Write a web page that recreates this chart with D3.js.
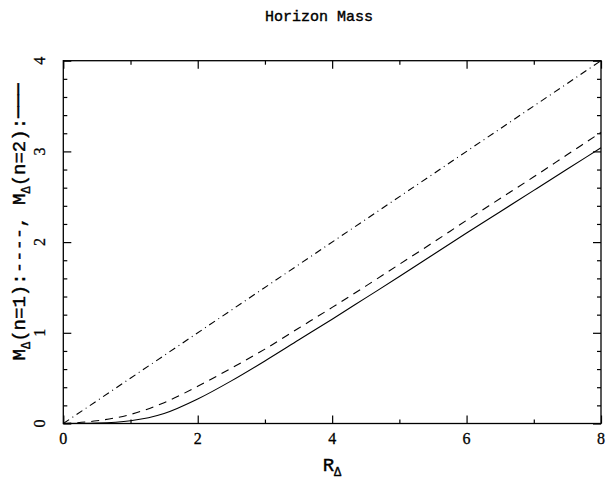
<!DOCTYPE html>
<html>
<head>
<meta charset="utf-8">
<script src="https://cdn.jsdelivr.net/npm/d3@7"></script>
<style>
  html, body { margin: 0; padding: 0; background: #fff; }
  svg { display: block; }
  text { font-family: "Liberation Mono", monospace; fill: #000; }
  .lbl { stroke: #000; stroke-width: 0.4; }
  .num { font-family: "Liberation Serif", serif; }
</style>
</head>
<body>
<svg id="chart" width="607" height="493"></svg>
<script>
// Horizon radius R_Δ and horizon masses for the n=1 and n=2 families
const rValues = [0, 0.5, 1, 1.5, 2, 2.5, 3, 3.5, 4, 4.5, 5, 5.5, 6, 6.5, 7, 7.5, 8];
const massN1  = [0, 0.03, 0.10, 0.23, 0.41, 0.61, 0.82, 1.05, 1.28, 1.515, 1.755, 1.995, 2.24, 2.48, 2.72, 2.965, 3.21];
const massN2  = [0, 0.005, 0.03, 0.11, 0.27, 0.47, 0.69, 0.92, 1.15, 1.385, 1.62, 1.86, 2.10, 2.335, 2.57, 2.805, 3.04];
// Reference line M = R/2
const refR = [0, 8];
const refM = [0, 4];

const xMajor = [0, 2, 4, 6, 8];
const xMinor = [1, 3, 5, 7];
const yMajor = [0, 1, 2, 3, 4];
const yMinor = d3.range(0, 4.0001, 0.2).map(v => +v.toFixed(1)).filter(v => !yMajor.includes(v));

const svg = d3.select("#chart");
const L = 63.3, R = 601, T = 60.7, B = 423.5;

const x = d3.scaleLinear().domain([0, 8]).range([L, R]);
const y = d3.scaleLinear().domain([0, 4]).range([B, T]);

// Frame
svg.append("rect")
  .attr("x", L).attr("y", T).attr("width", R - L).attr("height", B - T)
  .attr("fill", "none").attr("stroke", "#000").attr("stroke-width", 1.3);

// Inward ticks on all four sides
function ticks(axisFn, scale, values, size, transform) {
  const g = svg.append("g").attr("transform", transform)
    .call(axisFn(scale).tickValues(values).tickSize(size).tickFormat(""));
  g.select(".domain").remove();
  g.selectAll(".tick line").attr("stroke", "#000").attr("stroke-width", 1.2);
}
ticks(d3.axisBottom, x, xMajor, -8, `translate(0,${B})`);
ticks(d3.axisBottom, x, xMinor, -4, `translate(0,${B})`);
ticks(d3.axisTop, x, xMajor, -8, `translate(0,${T})`);
ticks(d3.axisTop, x, xMinor, -4, `translate(0,${T})`);
ticks(d3.axisLeft, y, yMajor, -8, `translate(${L},0)`);
ticks(d3.axisLeft, y, yMinor, -4, `translate(${L},0)`);
ticks(d3.axisRight, y, yMajor, -8, `translate(${R},0)`);
ticks(d3.axisRight, y, yMinor, -4, `translate(${R},0)`);

// Tick labels
svg.append("g").selectAll("text").data(xMajor).join("text")
  .attr("class", "num lbl")
  .attr("x", d => x(d)).attr("y", 444)
  .attr("text-anchor", "middle").attr("font-size", 16)
  .style("stroke-width", 0.3)
  .text(d => d);
svg.append("g").selectAll("text").data(yMajor).join("text")
  .attr("class", "num lbl")
  .attr("transform", d => `translate(45,${y(d)}) rotate(-90)`)
  .attr("text-anchor", "middle").attr("font-size", 16)
  .style("stroke-width", 0.3)
  .text(d => d);

// Curves
const line = d3.line().x(d => x(d[0])).y(d => y(d[1])).curve(d3.curveMonotoneX);
function curve(rs, ms, dash) {
  svg.append("path")
    .datum(rs.map((r, i) => [r, ms[i]]))
    .attr("d", line)
    .attr("fill", "none").attr("stroke", "#000").attr("stroke-width", 1.1)
    .attr("stroke-dasharray", dash);
}
curve(refR, refM, "7,4,1,4");
curve(rValues, massN1, "8,6");
curve(rValues, massN2, null);

// Title
svg.append("text")
  .attr("class", "lbl")
  .attr("x", 319).attr("y", 21)
  .attr("text-anchor", "middle").attr("font-size", 15)
  .text("Horizon Mass");

// X axis label
const xl = svg.append("text")
  .attr("class", "lbl")
  .attr("x", 332).attr("y", 471)
  .attr("text-anchor", "middle").attr("font-size", 19);
xl.append("tspan").text("R");
xl.append("tspan").attr("dy", 5).attr("font-size", 12).text("Δ");

// Y axis label
const yl = svg.append("text")
  .attr("class", "lbl")
  .attr("transform", "translate(25,222) rotate(-90)")
  .attr("text-anchor", "middle").attr("font-size", 19);
yl.append("tspan").text("M");
yl.append("tspan").attr("dy", 5).attr("font-size", 12).text("Δ");
yl.append("tspan").attr("dy", -5).text("(n=1):----, M");
yl.append("tspan").attr("dy", 5).attr("font-size", 12).text("Δ");
yl.append("tspan").attr("dy", -5).text("(n=2):");
yl.append("tspan").style("font-family", "'DejaVu Sans Mono', monospace")
  .text("\u2500\u2500\u2500");
</script>
</body>
</html>
